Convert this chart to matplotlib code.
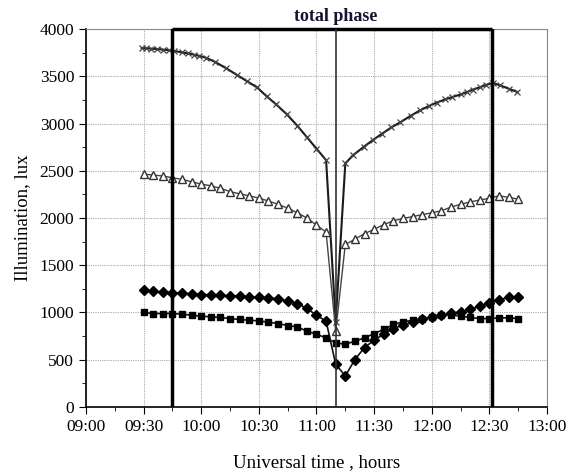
import matplotlib
matplotlib.use('Agg')
import matplotlib.pyplot as plt
from matplotlib.ticker import MultipleLocator

# time in minutes after 09:00
cross_t = [29, 31.5, 34, 37, 40, 43, 46, 50, 53, 56, 59, 62.5,
           67, 73, 78.5, 84, 89, 94, 99, 104.5, 110, 115, 120, 125,
           130,
           135, 139, 144.5, 149.5, 154, 159, 163.5, 169, 174, 178.5,
           182.5, 187, 190.5, 195, 198.5, 201.5, 205, 208.5, 212, 215.5, 220, 224.5]
cross_v = [3800, 3796, 3792, 3788, 3782, 3775, 3768, 3752, 3742, 3730, 3716, 3696,
           3654, 3584, 3515, 3445, 3383, 3289, 3202, 3098, 2977, 2855, 2734, 2612,
           900,
           2577, 2664, 2751, 2827, 2890, 2959, 3011, 3081, 3140, 3185,
           3220, 3255, 3279, 3307, 3334, 3359, 3383, 3411, 3428, 3404, 3369, 3334]

t5 = list(range(30, 226, 5))
tri_v = [2465, 2454, 2445, 2426, 2409, 2383, 2359, 2341, 2314, 2280,
         2255, 2235, 2210, 2180, 2145, 2105, 2055, 2000, 1925, 1850,
         800, 1720, 1775, 1835, 1880, 1930, 1970, 1995, 2015, 2035,
         2055, 2076, 2115, 2145, 2170, 2190, 2208, 2235, 2218, 2200]
dia_v = [1236, 1226, 1215, 1208, 1205, 1197, 1190, 1187, 1183, 1176,
         1173, 1165, 1162, 1155, 1144, 1120, 1095, 1043, 971, 908,
         452, 328, 502, 629, 706, 770, 830, 865, 901, 926,
         954, 971, 990, 1007, 1032, 1067, 1102, 1130, 1165, 1165]
sq_v = [1000, 989, 989, 989, 982, 971, 961, 954, 947, 936,
        926, 918, 911, 897, 883, 862, 848, 802, 770, 731,
        678, 664, 696, 731, 777, 820, 873, 901, 918, 929,
        954, 971, 975, 961, 947, 936, 936, 943, 943, 936]

xticks = [0, 30, 60, 90, 120, 150, 180, 210, 240]
xlabels = ['09:00', '09:30', '10:00', '10:30', '11:00', '11:30', '12:00', '12:30', '13:00']
phase_start, phase_end, mid = 44.7, 211.5, 130

plt.rcParams['font.family'] = ['Liberation Serif', 'DejaVu Serif']

fig = plt.figure(figsize=(5.68, 4.74), dpi=100)
ax = fig.add_axes([0.1514, 0.1414, 0.8116, 0.7974])

ax.plot(cross_t, cross_v, color='#1a1a1a', lw=1.5, marker='x', ms=5,
        mec='#444444', mew=0.9, zorder=3)
ax.plot(t5, tri_v, color='#444444', lw=1.0, marker='^', ms=5.5,
        mfc='white', mec='#333333', mew=1.0, zorder=3)
ax.plot(t5, dia_v, color='#111111', lw=1.2, marker='D', ms=5,
        mfc='black', mec='black', zorder=4)
ax.plot(t5, sq_v, color='#111111', lw=1.2, marker='s', ms=4.5,
        mfc='black', mec='black', zorder=4)

ax.set_xlim(0, 240)
ax.set_ylim(0, 4000)
ax.set_xticks(xticks)
ax.set_xticklabels(xlabels)
ax.xaxis.set_minor_locator(MultipleLocator(15))
ax.yaxis.set_major_locator(MultipleLocator(500))
ax.yaxis.set_minor_locator(MultipleLocator(250))
ax.tick_params(which='both', direction='out', labelsize=12.5)
ax.tick_params(which='major', length=5)
ax.tick_params(which='minor', length=3)
ax.grid(True, which='major', color='#aaaaaa', lw=0.8, ls=(0, (1, 1)))

for s in ['top', 'right']:
    ax.spines[s].set_color('#888888')
for s in ['left', 'bottom']:
    ax.spines[s].set_linewidth(1.2)

# total phase frame
ax.axvline(phase_start, color='black', lw=2.5, zorder=5)
ax.axvline(phase_end, color='black', lw=2.5, zorder=5)
ax.hlines(4000, phase_start, phase_end, color='black', lw=2.5, zorder=5, clip_on=False)
ax.axvline(mid, color='#333333', lw=1.2, zorder=5)
ax.text(mid, 4040, 'total phase', ha='center', va='bottom', fontsize=13,
        fontweight='bold', color='#141432')

ax.set_xlabel('Universal time , hours', fontsize=13.5, labelpad=14)
ax.set_ylabel('Illumination, lux', fontsize=13.5, labelpad=6)

fig.savefig('out.png', dpi=100)
